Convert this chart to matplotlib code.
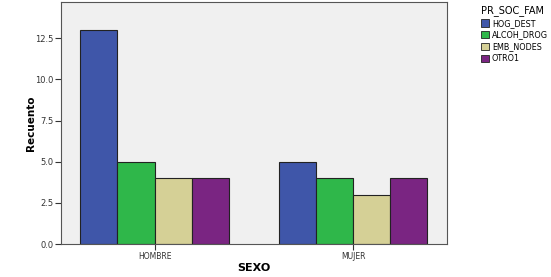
import matplotlib.pyplot as plt
import numpy as np
from matplotlib.patches import Patch

sexo = ["HOMBRE", "MUJER"]
series = ["HOG_DEST", "ALCOH_DROG", "EMB_NODES", "OTRO1"]
valores = {
    "HOG_DEST": [13, 5],
    "ALCOH_DROG": [5, 4],
    "EMB_NODES": [4, 3],
    "OTRO1": [4, 4],
}
colores = ["#3F56A9", "#2FB74A", "#D5D096", "#7A2582"]
yticks = [0.0, 2.5, 5.0, 7.5, 10.0, 12.5]

fig = plt.figure(figsize=(5.51, 2.77), dpi=100)
ax = fig.add_axes([0.1107, 0.119, 0.7005, 0.874])
ax.set_facecolor("#F0F0F0")

x = np.arange(len(sexo))
w = 0.186
for i, s in enumerate(series):
    ax.bar(x + (i - 1.5) * w, valores[s], w, color=colores[i],
           edgecolor="#222222", linewidth=0.8, zorder=2)

ax.set_xlim(-0.47, 1.47)
ax.set_ylim(0, 14.7)
ax.set_xticks(x)
ax.set_xticklabels(sexo, fontsize=5.5, color="#333333")
ax.set_yticks(yticks)
ax.set_yticklabels([f"{v:.1f}" for v in yticks], fontsize=6, color="#333333")
ax.tick_params(length=4, width=0.8, color="#333333", pad=1.5)
for sp in ax.spines.values():
    sp.set_color("#555555")
    sp.set_linewidth(0.8)

ax.set_xlabel("SEXO", fontsize=8, fontweight="bold", labelpad=1.5)
ax.set_ylabel("Recuento", fontsize=7.5, fontweight="bold", labelpad=-1)

handles = [Patch(facecolor=c, edgecolor="#222222", linewidth=0.6) for c in colores]
leg = fig.legend(handles, series, loc="upper left", bbox_to_anchor=(0.862, 1.005),
                 title="PR_SOC_FAM", fontsize=5.8, title_fontsize=7, frameon=False,
                 handlelength=1.0, handleheight=1.0, handletextpad=0.3,
                 labelspacing=0.35, borderpad=0.3)
leg._legend_box.align = "left"

fig.savefig("out.png", dpi=100, facecolor="white")
